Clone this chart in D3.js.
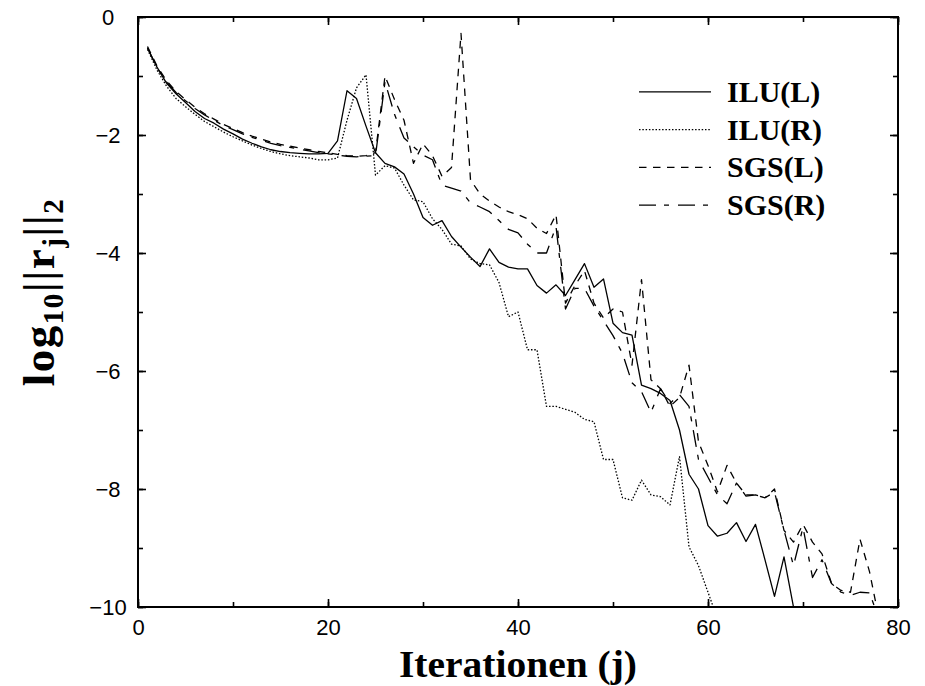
<!DOCTYPE html>
<html>
<head>
<meta charset="utf-8">
<script src="https://cdn.jsdelivr.net/npm/d3@7"></script>
<style>
  html, body { margin: 0; padding: 0; background: #fff; }
  svg { display: block; }
</style>
</head>
<body>
<svg id="chart" width="925" height="686"></svg>
<script>
// ---- data (iteration j = index + 1) ----
const seriesNames = ["ILU(L)", "ILU(R)", "SGS(L)", "SGS(R)"];
const xTicks = [0, 20, 40, 60, 80];
const yTicks = [0, -2, -4, -6, -8, -10];

const iluL = [-0.53,-0.85,-1.12,-1.3,-1.45,-1.6,-1.72,-1.8,-1.9,-1.98,
  -2.07,-2.14,-2.2,-2.25,-2.28,-2.3,-2.31,-2.32,-2.32,-2.31,
  -2.1,-1.25,-1.38,-1.85,-2.3,-2.48,-2.54,-2.66,-3.0,-3.4,
  -3.53,-3.45,-3.72,-3.9,-4.07,-4.23,-3.93,-4.16,-4.24,-4.27,
  -4.27,-4.55,-4.68,-4.54,-4.72,-4.45,-4.18,-4.58,-4.44,-5.19,
  -5.35,-5.39,-6.24,-6.3,-6.38,-6.5,-7.0,-7.75,-8.0,-8.62,
  -8.8,-8.75,-8.57,-8.89,-8.6,-9.2,-9.82,-9.15,-10.0,-10.6];

const iluR = [-0.55,-0.9,-1.17,-1.38,-1.52,-1.65,-1.77,-1.86,-1.95,-2.03,
  -2.1,-2.17,-2.23,-2.28,-2.32,-2.35,-2.37,-2.39,-2.42,-2.42,
  -2.39,-1.75,-1.2,-0.98,-2.68,-2.52,-2.56,-2.85,-3.1,-3.13,
  -3.42,-3.6,-3.85,-3.88,-4.1,-4.18,-4.2,-4.5,-5.08,-5.0,
  -5.64,-5.64,-6.6,-6.6,-6.65,-6.7,-6.82,-6.86,-7.5,-7.5,
  -8.15,-8.19,-7.85,-8.1,-8.13,-8.27,-7.45,-8.98,-9.3,-9.75,-10.2];

const sgsL = [-0.5,-0.83,-1.08,-1.26,-1.4,-1.53,-1.64,-1.73,-1.82,-1.89,
  -1.96,-2.02,-2.07,-2.12,-2.16,-2.19,-2.22,-2.25,-2.28,-2.3,
  -2.33,-2.35,-2.36,-2.35,-2.3,-1.0,-1.4,-1.75,-2.48,-2.15,
  -2.35,-2.7,-2.55,-0.28,-2.76,-3.0,-3.12,-3.22,-3.3,-3.35,
  -3.42,-3.58,-3.67,-3.35,-4.85,-4.55,-4.3,-4.85,-5.1,-4.95,
  -5.0,-5.9,-4.45,-6.15,-6.3,-6.6,-6.45,-5.9,-7.2,-7.6,
  -8.05,-7.6,-7.9,-8.1,-8.1,-8.15,-8.0,-8.7,-8.9,-8.6,
  -8.9,-9.1,-9.6,-9.72,-9.75,-8.85,-9.4,-10.2];

const sgsR = [-0.52,-0.86,-1.1,-1.28,-1.42,-1.55,-1.66,-1.75,-1.84,-1.91,
  -1.98,-2.04,-2.09,-2.14,-2.18,-2.21,-2.24,-2.27,-2.3,-2.32,
  -2.34,-2.36,-2.37,-2.36,-2.35,-1.1,-1.65,-2.05,-2.2,-2.34,
  -2.42,-2.85,-2.9,-2.95,-3.15,-3.22,-3.3,-3.45,-3.6,-3.66,
  -3.85,-4.0,-4.0,-3.55,-4.95,-4.6,-4.6,-4.9,-5.15,-5.4,
  -5.7,-6.2,-6.35,-6.7,-6.3,-6.55,-6.4,-6.6,-7.5,-7.8,
  -8.1,-8.25,-7.9,-8.12,-8.1,-8.15,-8.05,-8.7,-9.3,-8.65,
  -9.5,-9.2,-9.6,-9.75,-9.8,-9.75,-9.76,-10.2];

const seriesValues = [iluL, iluR, sgsL, sgsR];
const dashes = [null, "1.5,1.8", "7.5,6.5", "17,8,5,9"];

// ---- layout ----
const svg = d3.select("#chart");
const x = d3.scaleLinear().domain([0, 80]).range([138, 898]);
const y = d3.scaleLinear().domain([-10, 0]).range([607, 17]);
const L = x.range()[0], R = x.range()[1], T = y.range()[1], B = y.range()[0];

svg.append("defs").append("clipPath").attr("id", "clip")
  .append("rect").attr("x", L).attr("y", T).attr("width", R - L).attr("height", B - T);

const tickFont = "'Liberation Sans', Arial, Helvetica, sans-serif";
const fmt = d => d < 0 ? "\u2212" + Math.abs(d) : String(d);

const minorX = d3.range(0, 81, 10), minorY = d3.range(-10, 1, 1);
function axisG(axis, tx, ty) {
  const g = svg.append("g").attr("transform", `translate(${tx},${ty})`).call(axis);
  g.select(".domain").remove();
  g.selectAll("line").attr("stroke", "#000").attr("stroke-width", 1.6);
  return g;
}
axisG(d3.axisBottom(x).tickValues(minorX).tickSize(-5).tickFormat(""), 0, B);
axisG(d3.axisTop(x).tickValues(minorX).tickSize(-5).tickFormat(""), 0, T);
axisG(d3.axisLeft(y).tickValues(minorY).tickSize(-5).tickFormat(""), L, 0);
axisG(d3.axisRight(y).tickValues(minorY).tickSize(-5).tickFormat(""), R, 0);

const gx = axisG(d3.axisBottom(x).tickValues(xTicks).tickSize(-8).tickPadding(12).tickFormat(fmt), 0, B);
gx.selectAll("text").attr("font-family", tickFont).attr("font-size", 22).attr("fill", "#000");
const gy = axisG(d3.axisLeft(y).tickValues(yTicks).tickSize(-8).tickPadding(0).tickFormat(fmt), L, 0);
gy.selectAll("text").attr("font-family", tickFont).attr("font-size", 22).attr("fill", "#000")
  .attr("text-anchor", "middle").attr("x", -30);
axisG(d3.axisTop(x).tickValues(xTicks).tickSize(-8).tickFormat(""), 0, T);
axisG(d3.axisRight(y).tickValues(yTicks).tickSize(-8).tickFormat(""), R, 0);

svg.append("rect").attr("x", L).attr("y", T).attr("width", R - L).attr("height", B - T)
  .attr("fill", "none").attr("stroke", "#000").attr("stroke-width", 2);

// lines
const line = d3.line().x((d, i) => x(i + 1)).y(d => y(d));
const plot = svg.append("g").attr("clip-path", "url(#clip)");
seriesValues.forEach((vals, k) => {
  plot.append("path").datum(vals).attr("d", line)
    .attr("fill", "none").attr("stroke", "#000").attr("stroke-width", 1.3)
    .attr("stroke-linejoin", "round")
    .attr("stroke-dasharray", dashes[k]);
});

// legend
const serif = "'Liberation Serif', 'Times New Roman', Times, serif";
const legY = d3.scaleBand().domain(seriesNames).range([73, 224]);
seriesNames.forEach((name, k) => {
  const yy = legY(name) + legY.bandwidth() / 2;
  svg.append("line").attr("x1", 639).attr("x2", 711).attr("y1", yy).attr("y2", yy)
    .attr("stroke", "#000").attr("stroke-width", 1.4).attr("stroke-dasharray", dashes[k]);
  svg.append("text").attr("x", 727).attr("y", yy + 10).text(name)
    .attr("font-family", serif).attr("font-weight", "bold").attr("font-size", 30).attr("fill", "#000");
});

// axis titles
svg.append("text").attr("x", (L + R) / 2).attr("y", 677).attr("text-anchor", "middle")
  .attr("font-family", serif).attr("font-weight", "bold").attr("font-size", 38)
  .attr("textLength", 238).attr("lengthAdjust", "spacingAndGlyphs")
  .text("Iterationen (j)");

const yl = svg.append("text").attr("transform", "translate(54,292) rotate(-90)")
  .attr("text-anchor", "middle").attr("font-family", serif).attr("font-weight", "bold")
  .attr("font-size", 45).attr("letter-spacing", 1.5).attr("fill", "#000");
yl.append("tspan").text("log");
yl.append("tspan").attr("font-size", 29).attr("dy", 9).text("10");
yl.append("tspan").attr("dy", -9).text("||r");
yl.append("tspan").attr("font-size", 29).attr("dy", 9).text("j");
yl.append("tspan").attr("dy", -9).text("||");
yl.append("tspan").attr("font-size", 29).attr("dy", 9).text("2");
</script>
</body>
</html>
